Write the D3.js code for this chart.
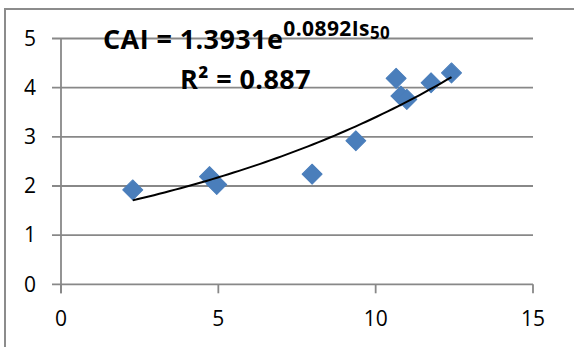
<!DOCTYPE html>
<html>
	<head>
		<meta charset="utf-8">
		<title>CAI vs Is50</title>
		<script src="https://d3js.org/d3.v7.min.js"></script>
		<style type="text/css">
			body { margin: 0; background: #fff; }
			text { font-family: "Open Sans", sans-serif; }
		</style>
	</head>
	<body>
		<script type="text/javascript">

			var svgWidth = 574;
			var svgHeight = 347;

			// datos
			var is50 = [2.28, 4.72, 4.95, 7.98, 9.37, 10.65, 10.80, 10.99, 11.76, 12.41];
			var cai = [1.92, 2.19, 2.03, 2.24, 2.92, 4.19, 3.83, 3.76, 4.10, 4.30];
			var xTicks = [0, 5, 10, 15];
			var yTicks = [0, 1, 2, 3, 4, 5];
			var fitA = 1.3931;
			var fitB = 0.0892;
			var r2 = '0.887';

			var dataset = is50.map(function(d, i) { return [d, cai[i]]; });

			var svg = d3.select('body')
				.append('svg')
				.attr('width', svgWidth)
				.attr('height', svgHeight);

			// borde del area del grafico
			svg.append('rect')
				.attr('x', 5)
				.attr('y', 9)
				.attr('width', 600)
				.attr('height', 400)
				.attr('fill', 'none')
				.attr('stroke', '#8c8c8c')
				.attr('stroke-width', 2);

			var xScale = d3.scaleLinear()
				.domain([0, 15])
				.range([61, 533]);

			var yScale = d3.scaleLinear()
				.domain([0, 5])
				.range([284.3, 38.5]);

			var gridColor = '#888888';

			// lineas de division horizontales
			svg.selectAll('line.grid')
				.data(yTicks)
				.enter()
				.append('line')
				.attr('class', 'grid')
				.attr('x1', 52)
				.attr('x2', xScale(15))
				.attr('y1', function(d) { return yScale(d); })
				.attr('y2', function(d) { return yScale(d); })
				.attr('stroke', gridColor)
				.attr('stroke-width', 1.8);

			// eje vertical
			svg.append('line')
				.attr('x1', xScale(0))
				.attr('x2', xScale(0))
				.attr('y1', yScale(5))
				.attr('y2', yScale(0) + 9)
				.attr('stroke', gridColor)
				.attr('stroke-width', 1.8);

			// marcas del eje x
			svg.selectAll('line.xtick')
				.data(xTicks)
				.enter()
				.append('line')
				.attr('class', 'xtick')
				.attr('x1', function(d) { return xScale(d); })
				.attr('x2', function(d) { return xScale(d); })
				.attr('y1', yScale(0))
				.attr('y2', yScale(0) + 9)
				.attr('stroke', gridColor)
				.attr('stroke-width', 1.8);

			svg.selectAll('text.ylab')
				.data(yTicks)
				.enter()
				.append('text')
				.attr('class', 'ylab')
				.text(function(d) { return d; })
				.attr('x', 36)
				.attr('y', function(d) { return yScale(d); })
				.attr('dy', '0.35em')
				.attr('text-anchor', 'end')
				.attr('font-size', '21px')
				.attr('fill', '#000');

			svg.selectAll('text.xlab')
				.data(xTicks)
				.enter()
				.append('text')
				.attr('class', 'xlab')
				.text(function(d) { return d; })
				.attr('x', function(d) { return xScale(d); })
				.attr('y', 319)
				.attr('dy', '0.35em')
				.attr('text-anchor', 'middle')
				.attr('font-size', '21px')
				.attr('fill', '#000');

			// linea de tendencia exponencial
			var xMin = d3.min(is50);
			var xMax = d3.max(is50);
			var fitPts = d3.range(0, 61).map(function(i) {
				var x = xMin + (xMax - xMin) * i / 60;
				return [x, fitA * Math.exp(fitB * x)];
			});

			var line = d3.line()
				.x(function(d) { return xScale(d[0]); })
				.y(function(d) { return yScale(d[1]); });

			// puntos (rombos)
			svg.selectAll('path.pt')
				.data(dataset)
				.enter()
				.append('path')
				.attr('class', 'pt')
				.attr('d', d3.symbol().type(d3.symbolSquare).size(200))
				.attr('transform', function(d) {
					return 'translate(' + xScale(d[0]) + ',' + yScale(d[1]) + ') rotate(45)';
				})
				.attr('fill', '#4a7ebb')
				.attr('stroke', '#4a7ebb')
				.attr('stroke-width', 1)
				.attr('stroke-linejoin', 'round');

			svg.append('path')
				.datum(fitPts)
				.attr('d', line)
				.attr('fill', 'none')
				.attr('stroke', '#000')
				.attr('stroke-width', 2);

			// ecuacion
			var eq = svg.append('text')
				.attr('x', 103)
				.attr('y', 48.5)
				.attr('font-weight', 'bold')
				.attr('font-size', '27px')
				.attr('letter-spacing', '0.4px')
				.attr('fill', '#000');
			eq.append('tspan').text('CAI = ' + fitA + 'e');
			eq.append('tspan')
				.attr('font-size', '21px')
				.attr('dy', -13)
				.text(fitB + 'Is');
			eq.append('tspan')
				.attr('font-size', '17px')
				.attr('dy', 3)
				.text('50');

			svg.append('text')
				.attr('x', 180)
				.attr('y', 89)
				.attr('font-weight', 'bold')
				.attr('font-size', '27px')
				.attr('letter-spacing', '0.4px')
				.attr('fill', '#000')
				.text('R² = ' + r2);

		</script>
	</body>
</html>
